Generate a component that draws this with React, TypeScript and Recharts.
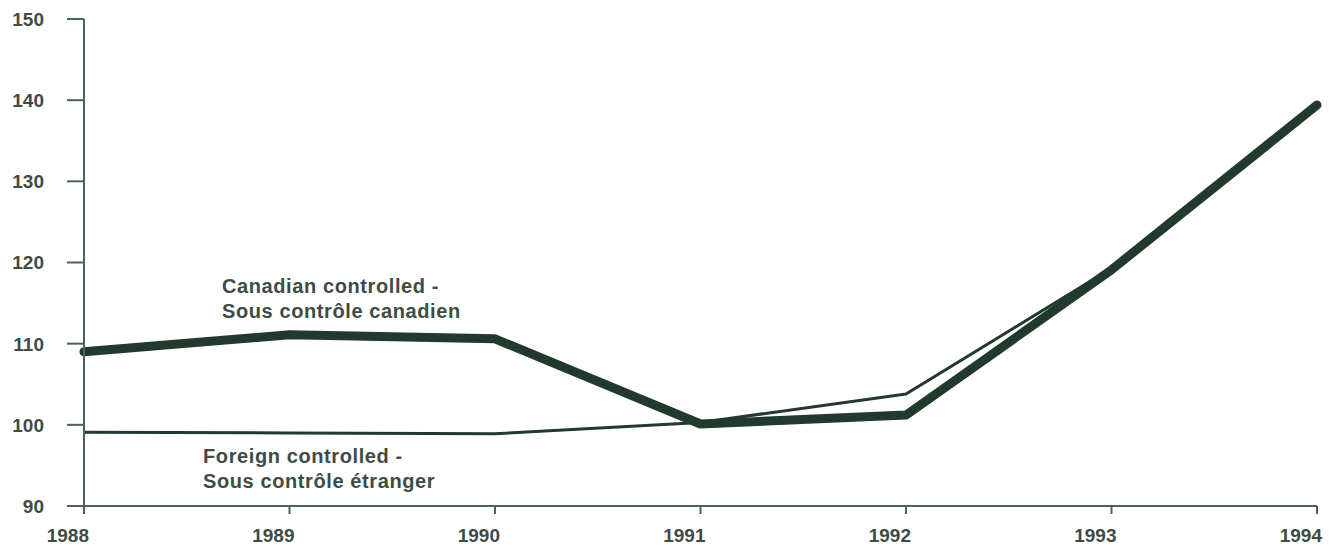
import { LineChart, Line, XAxis, YAxis } from 'recharts';

const years = ['1988', '1989', '1990', '1991', '1992', '1993', '1994'];
const canadianControlled = [109.0, 111.1, 110.6, 100.1, 101.2, 119.1, 139.4];
const foreignControlled = [99.1, 99.0, 98.9, 100.3, 103.8, 119.3, 139.2];
const yTicks = [90, 100, 110, 120, 130, 140, 150];

const data = years.map((year, i) => ({
  year,
  canadian: canadianControlled[i],
  foreign: foreignControlled[i],
}));

const ink = '#22392e';
const axisColor = '#4b6458';
const textColor = '#3e4c45';
const font = '"Liberation Sans", Arial, sans-serif';

function XTick({ x, y, payload }: any) {
  return (
    <text x={x + 5} y={y + 26} textAnchor="end" fill={textColor} fontSize={19} fontWeight="bold" fontFamily={font}>
      {payload.value}
    </text>
  );
}

function YTick({ x, y, payload }: any) {
  return (
    <text x={x} y={y} dy="0.36em" textAnchor="end" fill={textColor} fontSize={19} fontWeight="bold" fontFamily={font}>
      {payload.value}
    </text>
  );
}

const labelStyle = {
  position: 'absolute' as const,
  fontFamily: font,
  fontWeight: 'bold' as const,
  fontSize: 20,
  lineHeight: '25px',
  letterSpacing: 0.6,
  color: textColor,
  whiteSpace: 'nowrap' as const,
};

export default function App() {
  return (
    <div style={{ position: 'absolute', left: 0, top: 0, width: 1333, height: 547, background: '#fff' }}>
      <LineChart width={1333} height={547} data={data} margin={{ top: 19, right: 16, bottom: 0, left: 0 }}>
        <XAxis
          dataKey="year"
          height={41}
          stroke={axisColor}
          strokeWidth={2}
          tickSize={8}
          tick={<XTick />}
          interval={0}
        />
        <YAxis
          domain={[90, 150]}
          ticks={yTicks}
          width={84}
          stroke={axisColor}
          strokeWidth={2}
          tickSize={17}
          tickMargin={23}
          tick={<YTick />}
          interval={0}
        />
        <Line
          dataKey="foreign"
          stroke={ink}
          strokeWidth={3}
          dot={false}
          strokeLinejoin="round"
          isAnimationActive={false}
        />
        <Line
          dataKey="canadian"
          stroke={ink}
          strokeWidth={9}
          dot={false}
          strokeLinejoin="round"
          strokeLinecap="round"
          isAnimationActive={false}
        />
      </LineChart>
      <div style={{ ...labelStyle, left: 222, top: 274 }}>
        Canadian controlled -<br />Sous contrôle canadien
      </div>
      <div style={{ ...labelStyle, left: 203, top: 444 }}>
        Foreign controlled -<br />Sous contrôle étranger
      </div>
    </div>
  );
}
